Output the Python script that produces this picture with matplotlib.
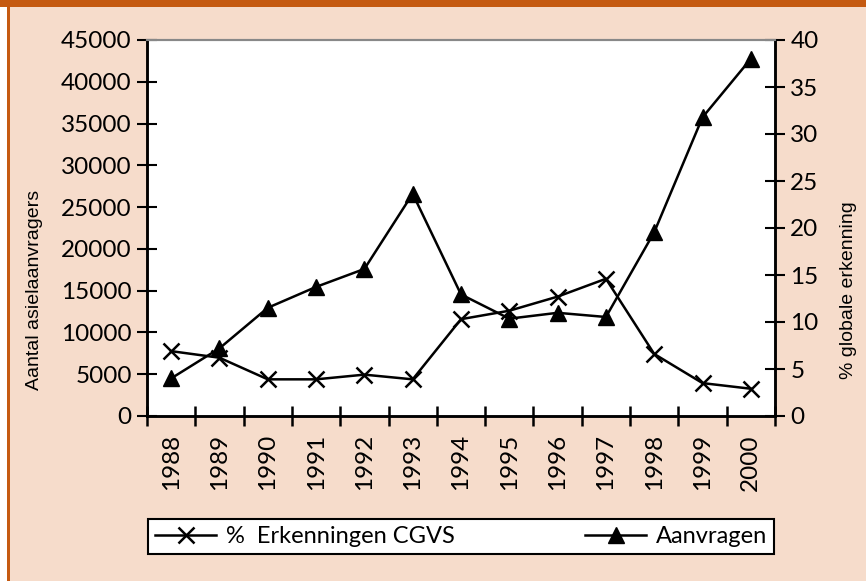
import numpy as np
import matplotlib.pyplot as plt
from matplotlib.patches import Rectangle
from matplotlib.lines import Line2D

years = ["1988", "1989", "1990", "1991", "1992", "1993", "1994",
         "1995", "1996", "1997", "1998", "1999", "2000"]
aanvragen = [4500, 8100, 12950, 15450, 17600, 26600, 14550,
             11650, 12350, 11850, 22000, 35750, 42750]
erkenningen = [6.9, 6.2, 3.9, 3.9, 4.4, 3.9, 10.3,
               11.2, 12.7, 14.6, 6.6, 3.5, 2.9]

left_ticks = list(range(0, 45001, 5000))
right_ticks = list(range(0, 41, 5))

BG = "#F6DCCB"
ORANGE = "#C55A11"
TICK_FONT = "Lato"
LABEL_FONT = "Liberation Sans"

fig = plt.figure(figsize=(8.66, 5.81), dpi=100, facecolor=BG)
W, H = 866, 581

# frame decoration: white strip, orange line at left, orange bar on top
fig.patches.append(Rectangle((0, 0), 7 / W, 1, transform=fig.transFigure,
                             facecolor="white", edgecolor="none", zorder=0))
fig.patches.append(Rectangle((7 / W, 0), 2.5 / W, 1, transform=fig.transFigure,
                             facecolor=ORANGE, edgecolor="none", zorder=0))
fig.patches.append(Rectangle((0, 1 - 7 / H), 1, 7 / H, transform=fig.transFigure,
                             facecolor=ORANGE, edgecolor="none", zorder=0))

ax = fig.add_axes([147 / W, 1 - 416 / H, (775 - 147) / W, (416 - 40) / H])
ax.set_facecolor("white")
ax2 = ax.twinx()

x = np.arange(len(years))
ax.plot(x, aanvragen, color="black", lw=1.8, marker="^", ms=12, zorder=3)
ax2.plot(x, erkenningen, color="black", lw=1.8, marker="x", ms=12, mew=1.8, zorder=3)

ax.set_xlim(-0.5, len(years) - 0.5)
ax.set_ylim(0, 45000)
ax2.set_ylim(0, 40)

ax.set_xticks(x)
ax.set_xticklabels(years, rotation=90, fontsize=17.5, family=TICK_FONT)
ax.set_xticks(np.arange(-0.5, len(years), 1), minor=True)
ax.tick_params(axis="x", which="major", length=0, pad=13)
ax.tick_params(axis="x", which="minor", direction="inout", length=14, width=1.8)

ax.set_yticks(left_ticks)
ax.set_yticklabels([str(v) for v in left_ticks], fontsize=17.5, family=TICK_FONT)
ax.tick_params(axis="y", direction="inout", length=14, width=1.5, pad=4)

ax2.set_yticks(right_ticks)
ax2.set_yticklabels([str(v) for v in right_ticks], fontsize=17.5, family=TICK_FONT)
ax2.tick_params(axis="y", direction="inout", length=14, width=1.5, pad=4)

for a in (ax, ax2):
    for side in ("left", "right", "bottom"):
        a.spines[side].set_color("black")
        a.spines[side].set_linewidth(1.8)
    a.spines["top"].set_color("#888888")
    a.spines["top"].set_linewidth(1.5)

ax.set_ylabel("Aantal asielaanvragers", fontsize=14, family=LABEL_FONT)
ax.yaxis.set_label_coords(-0.166, 0.335)
ax2.set_ylabel("% globale erkenning", fontsize=14, family=LABEL_FONT)
ax2.yaxis.set_label_coords(1.104, 0.335)

handles = [
    Line2D([], [], color="black", lw=1.8, marker="x", ms=12, mew=1.8),
    Line2D([], [], color="black", lw=1.8, marker="^", ms=12),
]
leg = fig.legend(handles, ["%  Erkenningen CGVS", "Aanvragen"],
                 loc="lower left", mode="expand", ncol=2, borderaxespad=0,
                 bbox_to_anchor=(148 / W, 1 - 554 / H, (774 - 148) / W, 40 / H),
                 bbox_transform=fig.transFigure,
                 prop={"family": TICK_FONT, "size": 17},
                 fancybox=False, framealpha=1, edgecolor="black",
                 handlelength=2.6, handletextpad=0.4, borderpad=0.3)
leg.get_frame().set_linewidth(1.5)

fig.savefig("out.png", dpi=100, facecolor=BG)
